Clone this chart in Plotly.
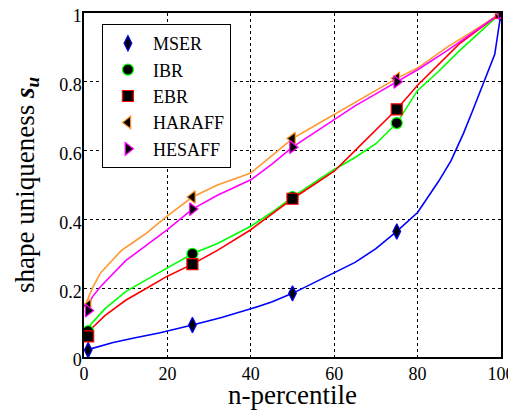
import plotly.graph_objects as go

mser_x = [0.5, 4, 7, 12, 18, 26, 33, 40, 45, 50, 55, 60, 65, 70, 75, 80, 85, 88, 91, 93, 95, 97, 98.5, 100]
mser_y = [0.02, 0.033, 0.042, 0.055, 0.07, 0.093, 0.115, 0.14, 0.16, 0.185, 0.215, 0.245, 0.275, 0.315, 0.365, 0.42, 0.51, 0.57, 0.65, 0.71, 0.77, 0.83, 0.88, 1.0]

ibr_x = [0.5, 2, 5, 10, 15, 20, 26, 32, 40, 45, 50, 55, 60, 65, 70, 75, 80, 85, 90, 95, 100]
ibr_y = [0.075, 0.10, 0.14, 0.19, 0.225, 0.26, 0.30, 0.33, 0.38, 0.42, 0.465, 0.505, 0.545, 0.58, 0.62, 0.68, 0.775, 0.83, 0.89, 0.945, 1.0]

ebr_x = [0.5, 2, 5, 10, 15, 20, 26, 32, 40, 45, 50, 55, 60, 65, 70, 75, 80, 85, 90, 95, 100]
ebr_y = [0.06, 0.085, 0.12, 0.165, 0.20, 0.235, 0.27, 0.31, 0.37, 0.415, 0.46, 0.50, 0.54, 0.60, 0.66, 0.72, 0.79, 0.85, 0.91, 0.955, 1.0]

haraff_x = [0.3, 1, 2, 4, 6, 9, 12, 15, 20, 26, 32, 40, 45, 50, 55, 60, 65, 70, 75, 80, 87, 93, 100]
haraff_y = [0.15, 0.17, 0.20, 0.245, 0.27, 0.31, 0.335, 0.36, 0.41, 0.465, 0.50, 0.535, 0.585, 0.635, 0.67, 0.705, 0.74, 0.775, 0.81, 0.84, 0.90, 0.945, 1.0]

hesaff_x = [0.3, 1, 2, 4, 6, 10, 15, 20, 26, 32, 40, 45, 50, 55, 60, 65, 70, 75, 80, 87, 93, 100]
hesaff_y = [0.13, 0.15, 0.175, 0.205, 0.23, 0.28, 0.325, 0.37, 0.43, 0.47, 0.515, 0.56, 0.61, 0.65, 0.69, 0.73, 0.765, 0.80, 0.835, 0.89, 0.94, 1.0]

mark_x = [1, 26, 50, 75, 100]
mser_m = [0.02, 0.093, 0.185, 0.365, 1.0]
ibr_m = [0.075, 0.30, 0.465, 0.68, 1.0]
ebr_m = [0.06, 0.27, 0.46, 0.72, 1.0]
haraff_m = [0.15, 0.465, 0.635, 0.81, 1.0]
hesaff_m = [0.135, 0.43, 0.61, 0.80, 1.0]

names = ["MSER", "IBR", "EBR", "HARAFF", "HESAFF"]
colors = ["#0000ff", "#00ff00", "#ff0000", "#ff9933", "#ff00ff"]
symbols = ["diamond-tall", "circle", "square", "triangle-left", "triangle-right"]
lines_x = [mser_x, ibr_x, ebr_x, haraff_x, hesaff_x]
lines_y = [mser_y, ibr_y, ebr_y, haraff_y, hesaff_y]
marks = [mser_m, ibr_m, ebr_m, haraff_m, hesaff_m]

fig = go.Figure()
for i in range(5):
    fig.add_trace(go.Scatter(x=lines_x[i], y=lines_y[i], mode="lines",
                             line=dict(color=colors[i], width=1.6),
                             showlegend=False, hoverinfo="skip"))
for i in range(5):
    fig.add_trace(go.Scatter(x=mark_x, y=marks[i], mode="markers", name=names[i],
                             marker=dict(symbol=symbols[i], color="black", size=11,
                                         line=dict(color=colors[i], width=1.2)),
                             showlegend=True))

font = "Liberation Serif"
# page body has an 8px margin, so the figure is sized/offset to compensate
fig.update_layout(
    width=508, height=402,
    margin=dict(l=76, r=15, t=5, b=53, autoexpand=False),
    paper_bgcolor="white", plot_bgcolor="white",
    font=dict(family=font, color="black", size=18),
    showlegend=True,
    legend=dict(x=0.043, y=0.968, xanchor="left", yanchor="top",
                bgcolor="white", bordercolor="black", borderwidth=1,
                font=dict(family=font, size=18, color="black"),
                itemwidth=40, tracegroupgap=0),
    xaxis=dict(range=[0, 100], tickvals=[0, 20, 40, 60, 80, 100],
               showgrid=True, gridcolor="black", griddash="3px,3px", gridwidth=1,
               showline=True, linecolor="black", linewidth=1.5, mirror=True,
               ticks="", zeroline=False, automargin=False,
               ticklabeloverflow="allow",
               tickfont=dict(size=18, family=font),
               title=dict(text="n-percentile", font=dict(size=27, family=font), standoff=2)),
    yaxis=dict(range=[0, 1], tickvals=[0, 0.2, 0.4, 0.6, 0.8, 1],
               ticktext=["0", "0.2", "0.4", "0.6", "0.8", "1"],
               showgrid=True, gridcolor="black", griddash="3px,3px", gridwidth=1,
               showline=True, linecolor="black", linewidth=1.5, mirror=True,
               ticks="", zeroline=False, automargin=False,
               ticklabeloverflow="allow", ticklabelstandoff=-3, ticklabelshift=3,
               tickfont=dict(size=18, family=font),
               title=dict(text="shape uniqueness <b><i>s</i></b><sub><b><i>u</i></b></sub>",
                          font=dict(size=27, family=font), standoff=17)),
)
fig.write_html("out.html")
